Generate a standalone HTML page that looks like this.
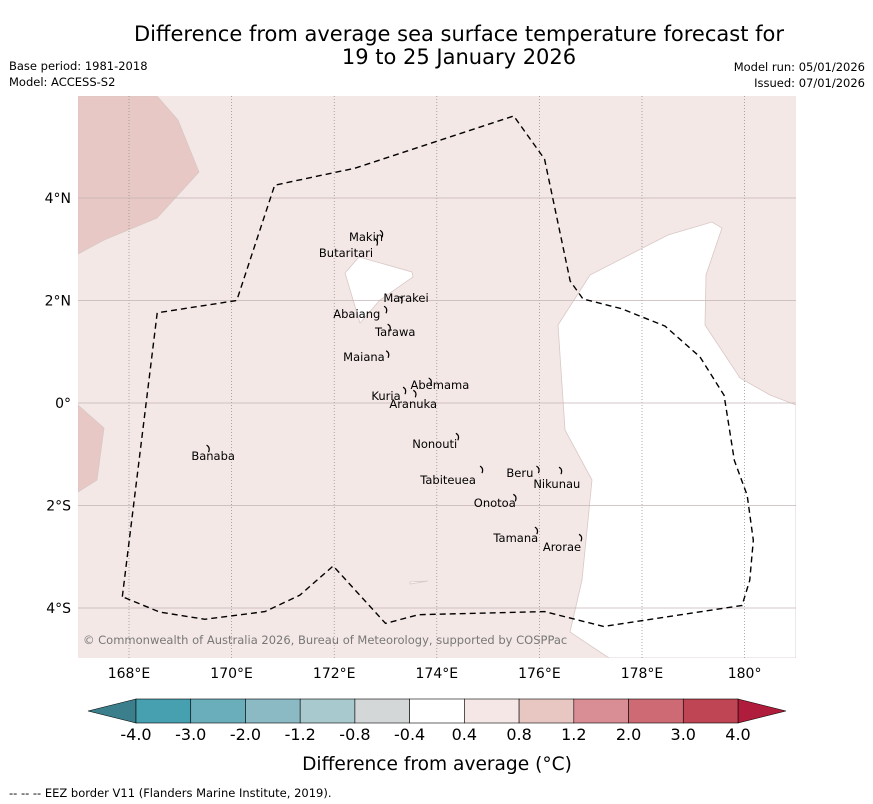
<!DOCTYPE html>
<html><head><meta charset="utf-8"><style>
body{margin:0;background:#fff;width:873px;height:804px;overflow:hidden;font-family:"DejaVu Sans","Liberation Sans",sans-serif}
svg{display:block}
</style></head><body>
<svg id="chart" width="873" height="804" viewBox="0 0 873 804">
<text x="459" y="41" font-size="21" text-anchor="middle">Difference from average sea surface temperature forecast for</text>
<text x="459" y="64" font-size="21" text-anchor="middle">19 to 25 January 2026</text>
<text x="9" y="70" font-size="11.5">Base period: 1981-2018</text>
<text x="9" y="86" font-size="11.5">Model: ACCESS-S2</text>
<text x="865" y="71" font-size="11.5" text-anchor="end">Model run: 05/01/2026</text>
<text x="865" y="87" font-size="11.5" text-anchor="end">Issued: 07/01/2026</text>
<defs><clipPath id="mc"><rect x="78" y="96" width="718" height="562"/></clipPath></defs>
<g id="map" clip-path="url(#mc)"></g>
<g id="axes"></g>
<g id="cbar"></g>
<text x="437" y="770" font-size="18.6" text-anchor="middle">Difference from average (°C)</text>
<text x="9" y="797" font-size="11.5">--  --  -- EEZ border V11 (Flanders Marine Institute, 2019).</text>
</svg>
<script>
const NS="http://www.w3.org/2000/svg";
const lonTicks=[168,170,172,174,176,178,180];
const lonLabels=["168°E","170°E","172°E","174°E","176°E","178°E","180°"];
const latTicks=[4,2,0,-2,-4];
const latLabels=["4°N","2°N","0°","2°S","4°S"];
const cbBounds=[-4.0,-3.0,-2.0,-1.2,-0.8,-0.4,0.4,0.8,1.2,2.0,3.0,4.0];
const cbLabels=["-4.0","-3.0","-2.0","-1.2","-0.8","-0.4","0.4","0.8","1.2","2.0","3.0","4.0"];
const cbColors=["#47a0b0","#6aaebb","#8bbac5","#a8cace","#d3d7d8","#ffffff","#f5e7e6","#e8c7c3","#d98d94","#cd6a74","#c04554"];
const islandNames=["Makin","Butaritari","Marakei","Abaiang","Tarawa","Maiana","Abemama","Kuria","Aranuka","Nonouti","Tabiteuea","Beru","Nikunau","Onotoa","Tamana","Arorae","Banaba"];
const islandLon=[172.95,172.85,173.33,173.03,173.1,173.07,173.9,173.4,173.6,174.43,174.9,176.0,176.44,175.55,175.97,176.83,169.57];
const islandLat=[3.29,3.13,2.0,1.81,1.46,0.94,0.41,0.23,0.17,-0.67,-1.31,-1.31,-1.33,-1.86,-2.5,-2.64,-0.9];
const labelLon=[172.62,172.23,173.40,172.44,173.19,172.58,174.06,173.01,173.54,173.96,174.22,175.62,176.34,175.13,175.54,176.44,169.64];
const labelLat=[3.24,2.93,2.05,1.74,1.39,0.90,0.35,0.14,-0.02,-0.80,-1.50,-1.37,-1.58,-1.95,-2.63,-2.81,-1.03];
const eezLon=[167.87,168.55,170.1,170.84,172.4,175.5,176.1,176.6,176.85,177.6,178.45,179.13,179.6,179.8,180.05,180.17,180.1,179.95,177.25,176.1,173.65,173.0,171.98,171.33,170.65,169.48,168.6,167.87];
const eezLat=[-3.78,1.76,2.0,4.25,4.58,5.6,4.76,2.38,2.03,1.84,1.5,0.9,0.15,-1.12,-1.8,-2.68,-3.46,-3.95,-4.36,-4.07,-4.13,-4.3,-3.18,-3.75,-4.07,-4.22,-4.08,-3.78];
const x=lon=>129+(lon-168)*51.3;
const y=lat=>403-lat*51.25;
const map=document.getElementById('map'),axes=document.getElementById('axes'),cb=document.getElementById('cbar');
function el(t,a,p){const e=document.createElementNS(NS,t);for(const k in a)e.setAttribute(k,a[k]);p.appendChild(e);return e;}
let e=el('rect',{x:78,y:96,width:718,height:562,fill:'#f4e8e7'},map);


const regions=[
 ['#e8c8c4','78,96 157,96 178,120 199,172 157,218 104,240 78,254','warm-region-northwest'],
 ['#e8c8c4','78,405 104,428 97,480 78,492','warm-region-west'],
 ['#ffffff','359,257 412,272 413,277 380,300 360,323 345,273','neutral-region-central'],
 ['#ffffff','558,325 590,275 668,235 712,222 722,228 706,275 705,325 740,378 770,395 796,405 796,658 609,658 570,632 582,580 592,480 565,430','neutral-region-east'],
 ['#ffffff','410,582 428,581 410,584','neutral-patch-small']];
regions.forEach(r=>{const p=el('polygon',{points:r[1],fill:r[0],stroke:'#d8c8c6','stroke-width':0.8},map);

});
lonTicks.forEach((v,i)=>{const l=el('line',{x1:x(v),x2:x(v),y1:96,y2:658,stroke:'#888','stroke-width':0.7,'stroke-dasharray':'1,2'},map);


const t=el('text',{x:x(v),y:678,'font-size':14,'text-anchor':'middle'},axes);t.textContent=lonLabels[i];

});
latTicks.forEach((v,i)=>{const l=el('line',{x1:78,x2:796,y1:y(v),y2:y(v),stroke:'#c4b4b4','stroke-width':0.8},map);


const t=el('text',{x:71,y:y(v)+5,'font-size':14,'text-anchor':'end'},axes);t.textContent=latLabels[i];

});
const pts=eezLon.map((v,i)=>x(v)+','+y(eezLat[i])).join(' ');
e=el('polyline',{points:pts,fill:'none',stroke:'#000','stroke-width':1.4,'stroke-dasharray':'6,4'},map);


islandNames.forEach((n,i)=>{const px=x(islandLon[i]),py=y(islandLat[i]);
const s=el('path',{d:`M${px-3},${py-4} q4,2 2,7`,stroke:'#000','stroke-width':1.2,fill:'none'},map);


const t=el('text',{x:x(labelLon[i]),y:y(labelLat[i])+4,'font-size':11.5,'text-anchor':'middle'},map);t.textContent=n;

});
e=el('text',{x:83,y:644,'font-size':11.5,fill:'#777'},map);e.textContent='© Commonwealth of Australia 2026, Bureau of Meteorology, supported by COSPPac';


// colorbar
const cx0=136,cx1=738,cy0=699,cy1=723,n=cbBounds.length-1,w=(cx1-cx0)/n;
e=el('polygon',{points:`${cx0},${cy0} 88,711 ${cx0},${cy1}`,fill:'#3a7f8b',stroke:'#000','stroke-width':0.6},cb);


e=el('polygon',{points:`${cx1},${cy0} 786,711 ${cx1},${cy1}`,fill:'#b01c3b',stroke:'#000','stroke-width':0.6},cb);


cbColors.forEach((c,i)=>{const r=el('rect',{x:cx0+i*w,y:cy0,width:w,height:cy1-cy0,fill:c,stroke:'#000','stroke-width':0.6},cb);

});
cbBounds.forEach((v,i)=>{const t=el('text',{x:cx0+i*w,y:740,'font-size':16,'text-anchor':'middle'},cb);t.textContent=cbLabels[i];

});
</script>
</body></html>
